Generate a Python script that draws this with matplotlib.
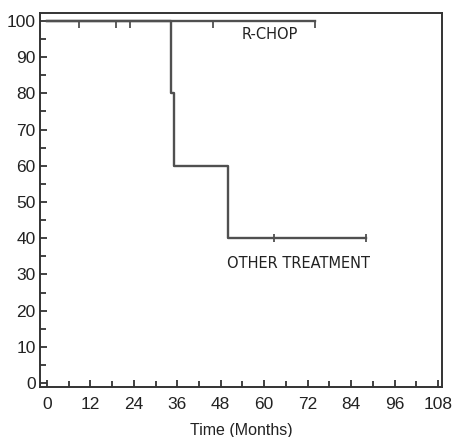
import matplotlib
matplotlib.use("Agg")
import matplotlib.pyplot as plt
from matplotlib.ticker import MultipleLocator

# Data (months, survival %)
rchop_t = [0, 74]
rchop_s = [100, 100]
rchop_censor_t = [8.8, 19, 23, 46, 74]
rchop_censor_s = [100, 100, 100, 100, 100]

other_t = [0, 34.4, 35.2, 50, 88]
other_s = [100, 80, 60, 40, 40]
other_censor_t = [62.7, 88]
other_censor_s = [40, 40]

xticks = [0, 12, 24, 36, 48, 60, 72, 84, 96, 108]
yticks = [0, 10, 20, 30, 40, 50, 60, 70, 80, 90, 100]

fig = plt.figure(figsize=(4.53, 4.37), dpi=100)
ax = fig.add_axes([40/453, 1-387/437, 402/453, 374/437])

col = "#505050"
ax.step(rchop_t, rchop_s, where="post", color=col, lw=1.7)
ax.step(other_t, other_s, where="post", color=col, lw=1.7)
ax.plot(rchop_censor_t, rchop_censor_s, ls="none", marker=3, ms=5, mew=1.3, color=col)
ax.plot(other_censor_t, other_censor_s, ls="none", marker="|", ms=6, mew=1.3, color=col)

ax.set_xlim(-1.9, 109.1)
ax.set_ylim(-1.1, 102.2)
ax.set_xticks(xticks)
ax.set_yticks(yticks)
ax.xaxis.set_minor_locator(MultipleLocator(6))
ax.yaxis.set_minor_locator(MultipleLocator(5))
ax.tick_params(which="both", direction="in", color="#333333", width=1.3,
               labelsize=12.5, labelcolor="#222222")
ax.tick_params(axis="x", which="both", pad=7)
ax.tick_params(axis="y", which="both", pad=3)
ax.tick_params(which="major", length=5)
ax.tick_params(which="minor", length=4)
for lab in ax.get_xticklabels() + ax.get_yticklabels():
    lab.set_fontfamily("Liberation Sans")
for sp in ax.spines.values():
    sp.set_color("#333333")
    sp.set_linewidth(1.4)

ax.set_xlabel("Time (Months)", fontsize=11.5, family="Liberation Sans", labelpad=8, color="#222222")
ax.text(61.5, 96.2, "R-CHOP", ha="center", va="center", fontsize=10.5, family="DejaVu Sans", color="#222222")
ax.text(69.5, 33, "OTHER TREATMENT", ha="center", va="center", fontsize=10.5, family="DejaVu Sans", color="#222222")

fig.savefig("out.png", dpi=100)
